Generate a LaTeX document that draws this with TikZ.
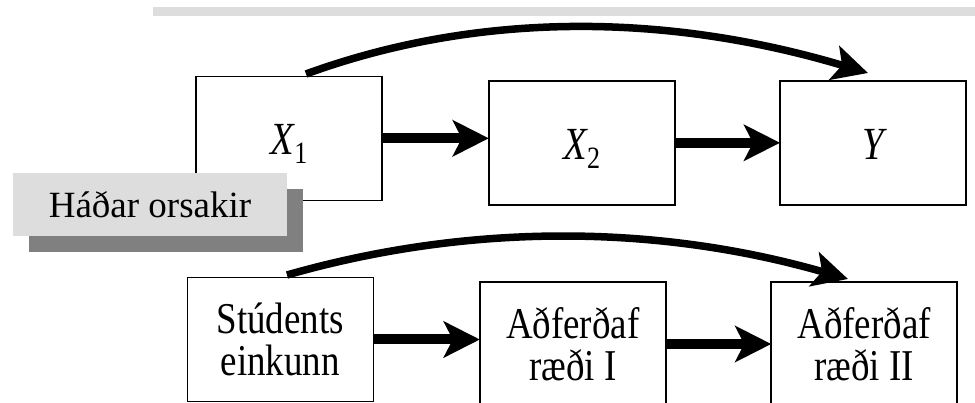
\documentclass[tikz,border=0pt]{standalone}
\usepackage{fontspec}
\setmainfont{Liberation Serif}
\newfontfamily\condfont{Liberation Serif}[FakeStretch=0.84]
\usetikzlibrary{arrows.meta}
\definecolor{bandgray}{HTML}{DDDDDD}
\definecolor{boxgray}{HTML}{DDDDDD}
\definecolor{shadowgray}{HTML}{808080}
\begin{document}
\begin{tikzpicture}[x=1pt,y=-1pt,
  varbox/.style={draw=black, line width=1.5pt, minimum width=186pt, minimum height=124pt,
    inner sep=0pt, outer sep=0pt, align=center},
  toplabel/.style={font=\condfont\fontsize{46}{46}\selectfont, text height=33pt, text depth=0pt},
  lowlabel/.style={font=\condfont\fontsize{44}{41.5}\selectfont},
  straightarrow/.style={line width=10pt, -{Stealth[length=36pt, width=36pt, inset=9pt]}},
  curvearrow/.style={line width=7.5pt, -{Stealth[length=35pt, width=35pt, inset=8pt]}},
  notebox/.style={fill=boxgray, minimum width=274pt, minimum height=63.3pt, inner sep=0pt,
    font=\fontsize{37}{40}\selectfont},
  noteshadow/.style={fill=shadowgray, minimum width=274pt, minimum height=63.3pt, inner sep=0pt}
]
\useasboundingbox (0,0) rectangle (975,403);
\clip (0,0) rectangle (975,403);

% top band
\fill[bandgray] (153,7.3) rectangle (975,15.7);

% upper row
\node[varbox, toplabel] (x1) at (289.2,138.3) {\itshape X\raisebox{-9pt}{\upshape\fontsize{31}{31}\selectfont 1}};
\node[varbox, toplabel] (x2) at (581.8,142.8) {\itshape X\raisebox{-9pt}{\upshape\fontsize{31}{31}\selectfont 2}};
\node[varbox, toplabel] (y)  at (873,142.8) {\itshape Y};

% lower row
\node[varbox, lowlabel] (s)  at (280.3,339.5) {Stúdents\\einkunn};
\node[varbox, lowlabel] (a1) at (572.8,344) {Aðferðaf\\ræði I};
\node[varbox, lowlabel] (a2) at (864.2,344) {Aðferðaf\\ræði II};

% note box with shadow
\node[noteshadow] (hsh) at (166,220.3) {};
\node[notebox] (h) at (150,204.3) {Háðar orsakir};

% straight arrows
\draw[straightarrow] (x1.east) -- (x1.east -| x2.west);
\draw[straightarrow] (x2.east) -- (x2.east -| y.west);
\draw[straightarrow] (s.east) -- (s.east -| a1.west);
\draw[straightarrow] (a1.east) -- (a1.east -| a2.west);

% curved arrows
\coordinate (c1s) at (306,74);
\coordinate (c1e) at (868,73);
\draw[curvearrow] (c1s) .. controls (476,12) and (664,12) .. (c1e);
\coordinate (c2s) at (287,275);
\coordinate (c2e) at (848,279);
\draw[curvearrow] (c2s) .. controls (469,223) and (656,224) .. (c2e);
\end{tikzpicture}
\end{document}
